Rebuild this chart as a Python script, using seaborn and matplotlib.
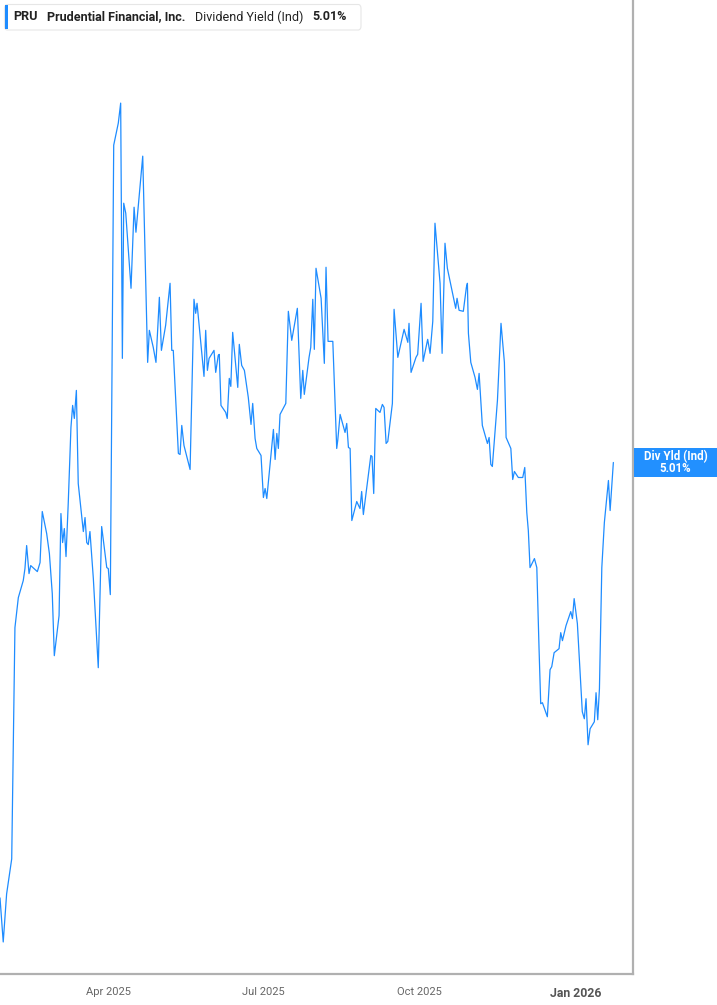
import matplotlib
matplotlib.use("Agg")
import matplotlib.pyplot as plt
from matplotlib.patches import FancyBboxPatch, Rectangle
import seaborn as sns
import pandas as pd

# ---------------- data ----------------
start_date = "2025-01-27"
day_offsets = [
    0.0, 1.9, 3.9, 6.9, 8.8, 10.8, 13.7, 14.7, 15.7, 17.1, 18.1, 22.0, 23.6, 24.9, 27.5, 29.1,
    30.8, 32.0, 34.8, 35.9, 36.9, 37.9, 38.9, 40.2, 41.8, 42.8, 43.8, 45.0, 46.1, 49.1, 50.1, 51.1,
    52.0, 53.0, 55.0, 57.9, 59.9, 62.9, 63.8, 65.0, 67.0, 69.7, 71.1, 72.1, 72.9, 74.1, 77.2, 79.0,
    80.1, 84.1, 87.0, 88.0, 90.3, 91.9, 93.9, 95.1, 97.6, 100.2, 101.2, 102.1, 105.1, 106.1, 107.1, 108.4,
    112.0, 114.3, 115.3, 116.1, 120.2, 121.2, 122.2, 123.2, 126.1, 127.1, 128.6, 129.2, 130.2, 133.0, 133.9, 135.1,
    136.0, 137.1, 140.1, 141.0, 142.4, 144.0, 146.3, 147.9, 148.9, 150.3, 151.3, 153.8, 155.2, 156.2, 157.2, 161.1,
    162.1, 163.1, 164.0, 165.0, 168.4, 169.9, 171.9, 175.2, 177.2, 178.4, 179.3, 182.1, 183.1, 184.3, 185.2, 186.2,
    189.2, 191.1, 192.1, 193.3, 196.1, 198.4, 199.0, 200.4, 203.3, 204.3, 205.3, 206.3, 207.3, 210.2, 212.1, 213.1,
    214.1, 218.5, 219.2, 220.2, 221.4, 223.9, 225.3, 226.3, 227.5, 228.5, 231.2, 232.2, 234.4, 238.1, 240.3, 241.0,
    242.2, 245.1, 246.1, 248.1, 249.3, 252.0, 253.4, 255.0, 256.3, 259.3, 260.5, 262.2, 263.6, 268.5, 269.3, 270.5,
    273.0, 274.8, 275.4, 276.0, 277.4, 279.9, 281.3, 282.3, 284.2, 287.2, 288.2, 289.2, 290.1, 293.1, 295.2, 297.2,
    298.2, 301.0, 302.1, 303.1, 305.4, 308.0, 309.2, 310.4, 311.3, 312.3, 314.9, 316.3, 317.6, 318.6, 319.6, 322.5,
    324.1, 325.1, 326.5, 329.4, 330.4, 331.4, 333.5, 336.3, 337.3, 338.3, 340.2, 343.1, 344.3, 345.3, 346.5, 347.7,
    350.2, 351.2, 352.2, 353.2, 354.6, 356.1, 358.5, 359.5, 361.4,
]
div_yield = [
    4.140, 4.052, 4.148, 4.218, 4.680, 4.740, 4.774, 4.798, 4.844, 4.788, 4.804, 4.792, 4.810, 4.912, 4.868, 4.828,
    4.748, 4.624, 4.704, 4.908, 4.850, 4.878, 4.822, 4.928, 5.080, 5.124, 5.098, 5.154, 4.968, 4.872, 4.900, 4.850,
    4.846, 4.872, 4.778, 4.600, 4.882, 4.800, 4.798, 4.746, 5.644, 5.688, 5.728, 5.218, 5.528, 5.508, 5.358, 5.520,
    5.470, 5.622, 5.210, 5.274, 5.240, 5.210, 5.340, 5.234, 5.284, 5.368, 5.234, 5.234, 5.028, 5.026, 5.084, 5.044,
    4.996, 5.336, 5.308, 5.328, 5.182, 5.274, 5.194, 5.218, 5.234, 5.190, 5.224, 5.226, 5.124, 5.110, 5.098, 5.178,
    5.162, 5.270, 5.160, 5.246, 5.204, 5.194, 5.140, 5.086, 5.128, 5.058, 5.038, 5.024, 4.940, 4.958, 4.938, 5.076,
    5.016, 5.068, 5.038, 5.106, 5.128, 5.312, 5.254, 5.318, 5.138, 5.194, 5.146, 5.220, 5.240, 5.336, 5.236, 5.398,
    5.338, 5.208, 5.400, 5.252, 5.252, 5.038, 5.054, 5.106, 5.070, 5.088, 5.040, 5.038, 4.894, 4.932, 4.918, 4.952,
    4.906, 5.024, 5.022, 4.948, 5.118, 5.110, 5.126, 5.120, 5.048, 5.052, 5.128, 5.316, 5.220, 5.276, 5.250, 5.288,
    5.190, 5.220, 5.226, 5.328, 5.212, 5.256, 5.228, 5.292, 5.488, 5.368, 5.228, 5.448, 5.398, 5.318, 5.338, 5.314,
    5.312, 5.360, 5.368, 5.268, 5.210, 5.180, 5.156, 5.188, 5.084, 5.048, 5.060, 5.006, 5.002, 5.134, 5.288, 5.210,
    5.060, 5.038, 4.976, 4.992, 4.980, 4.980, 5.000, 4.910, 4.874, 4.800, 4.818, 4.800, 4.640, 4.528, 4.530, 4.502,
    4.596, 4.602, 4.630, 4.638, 4.670, 4.654, 4.684, 4.712, 4.698, 4.738, 4.688, 4.512, 4.498, 4.538, 4.446, 4.478,
    4.492, 4.550, 4.496, 4.558, 4.800, 4.890, 4.974, 4.914, 5.010,
]
tick_dates = ["2025-04-01", "2025-07-01", "2025-10-01", "2026-01-01"]
tick_labels = ["Apr 2025", "Jul 2025", "Oct 2025", "Jan 2026"]
ticker = "PRU"
company = "Prudential Financial, Inc."
metric = "Dividend Yield (Ind)"
last_label = "5.01%"
side_title = "Div Yld (Ind)"

# ---------------- plot ----------------
sns.set_style("white")
plt.rcParams["font.family"] = ["Roboto", "DejaVu Sans"]

dates = pd.Timestamp(start_date) + pd.to_timedelta(day_offsets, unit="D")
df = pd.DataFrame({"date": dates, "yield": div_yield})

W, H = 717, 1005
fig = plt.figure(figsize=(W / 100, H / 100), dpi=100)
ax_left, ax_right, ax_top, ax_bottom = 0, 632.7, 0, 974
ax = fig.add_axes([ax_left / W, 1 - ax_bottom / H, (ax_right - ax_left) / W, (ax_bottom - ax_top) / H])

line_color = "#1e8cff"
sns.lineplot(data=df, x="date", y="yield", ax=ax, color=line_color, linewidth=0.9, estimator=None)

ax.set_xlim(pd.Timestamp(start_date), pd.Timestamp(start_date) + pd.Timedelta(days=372.8))
ax.set_ylim(3.988, 5.934)
ax.set_xlabel("")
ax.set_ylabel("")
ax.set_yticks([])

ax.set_xticks(pd.to_datetime(tick_dates))
ax.set_xticklabels(tick_labels)
ax.tick_params(axis="x", length=6, width=1.2, color="#b0b0b0", pad=3, labelsize=8, labelcolor="#666666")
for lbl in ax.get_xticklabels():
    if lbl.get_text().startswith("Jan"):
        lbl.set_fontweight("bold")
        lbl.set_fontsize(8.8)
        lbl.set_color("#555555")

for s in ["left", "top"]:
    ax.spines[s].set_visible(False)
for s in ["bottom", "right"]:
    ax.spines[s].set_color("#b0b0b0")
    ax.spines[s].set_linewidth(1.6)

# right-hand value label
last_val = div_yield[-1]
px_per_unit = (ax_bottom - ax_top) / (5.934 - 3.988)
box_h = 29 / px_per_unit
box_w = (W - ax_right) / (ax_right - ax_left)
trans = ax.get_yaxis_transform()
ax.add_patch(Rectangle((1.0015, last_val - box_h / 2 - 0.001), box_w, box_h, transform=trans,
                       facecolor="#2290ff", edgecolor="none", clip_on=False, zorder=5))
cx = 1.0 + box_w / 2 + 0.001
ax.text(cx, last_val + 6 / px_per_unit, side_title, transform=trans, ha="center", va="center",
        color="white", fontsize=8.3, fontweight="bold", zorder=6, clip_on=False)
ax.text(cx, last_val - 6 / px_per_unit, last_label, transform=trans, ha="center", va="center",
        color="white", fontsize=8.3, fontweight="bold", zorder=6, clip_on=False)

# legend box at top-left
fig.patches.append(FancyBboxPatch((4.5 / W, 1 - 30 / H), (361 - 4.5) / W, 25.5 / H,
                                  boxstyle="round,pad=0,rounding_size=0.004",
                                  transform=fig.transFigure, facecolor="white",
                                  edgecolor="#e6e6e6", linewidth=0.8, zorder=10))
fig.patches.append(Rectangle((4.5 / W, 1 - 29 / H), 3 / W, 23.5 / H, transform=fig.transFigure,
                             facecolor=line_color, edgecolor="none", zorder=11))
ty = 1 - 17 / H
fs = 9.0
fig.text(13.5 / W, ty, ticker, ha="left", va="center", fontsize=fs, fontweight="bold", color="#222222", zorder=12)
fig.text(47 / W, ty, company, ha="left", va="center", fontsize=fs, fontweight="bold", color="#222222", zorder=12)
fig.text(195 / W, ty, metric, ha="left", va="center", fontsize=fs, color="#222222", zorder=12)
fig.text(312 / W, ty, last_label, ha="left", va="center", fontsize=fs, fontweight="bold", color="#222222", zorder=12)

fig.savefig("out.png", dpi=100)
